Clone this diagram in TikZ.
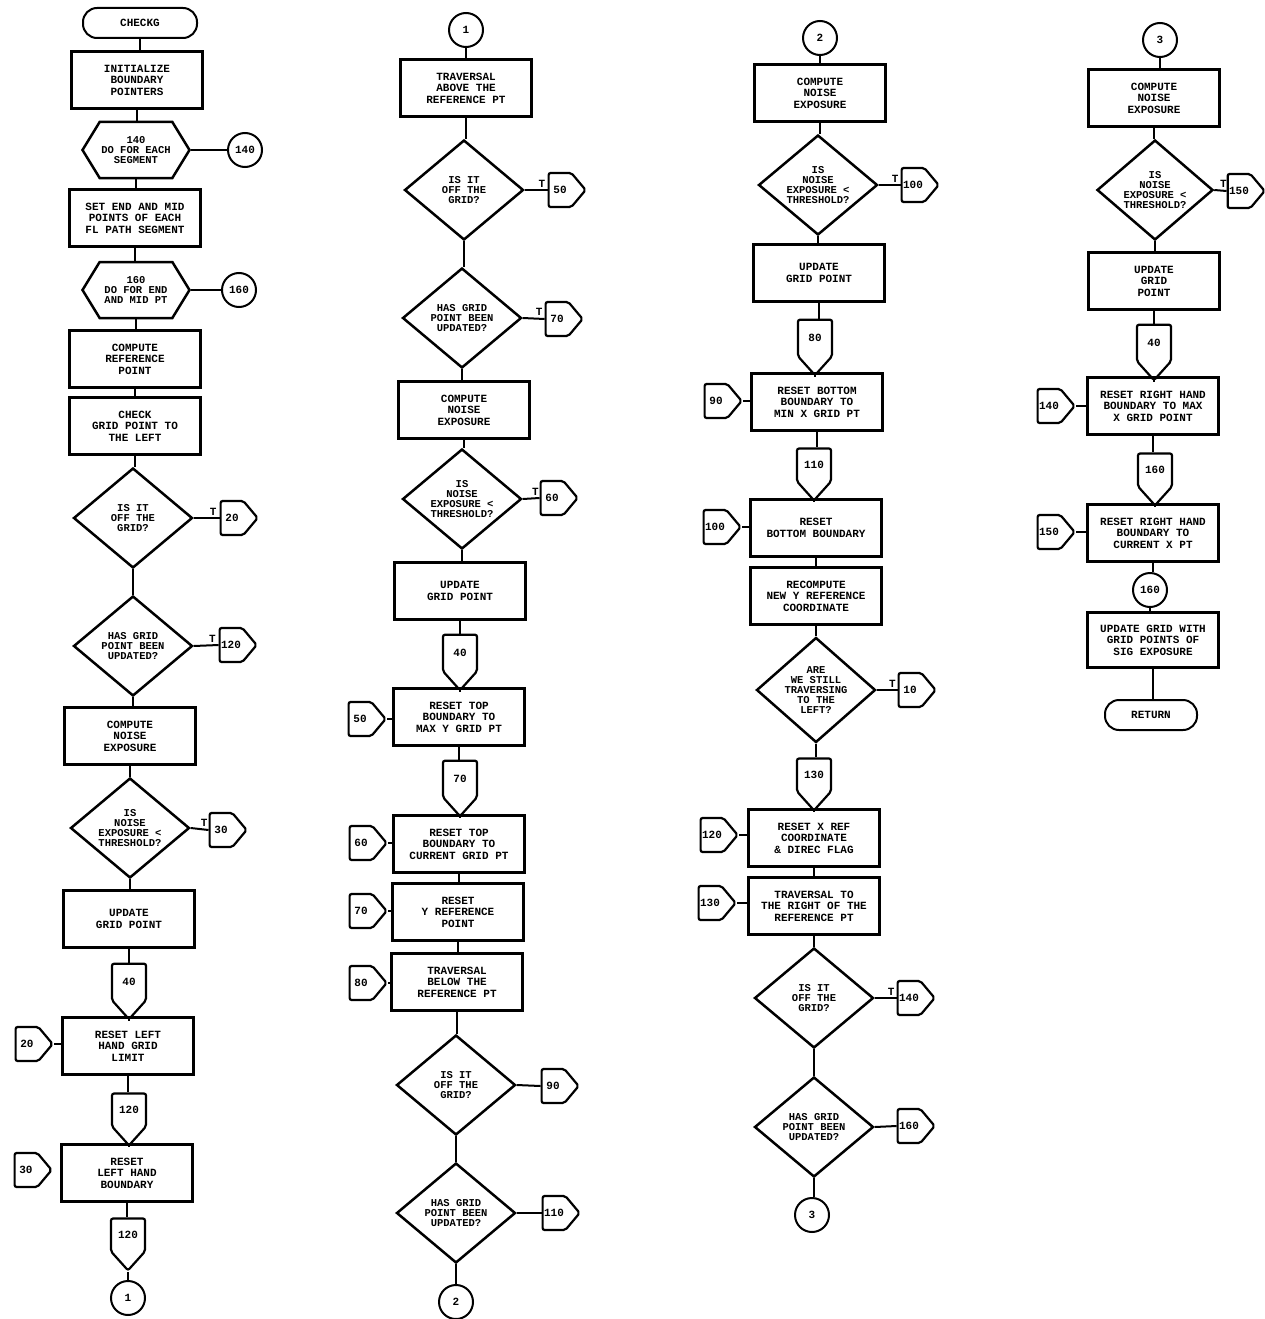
\documentclass[tikz,border=0pt]{standalone}
\usepackage{fontspec}
\usetikzlibrary{shapes.geometric,shapes.symbols}
\newfontfamily\chartfont{Liberation Mono}
\newcommand\chf{\chartfont\bfseries\fontsize{11}{11.5}\selectfont}
\newcommand\chd{\chartfont\bfseries\fontsize{10.5}{9.8}\selectfont}
\begin{document}
\begin{tikzpicture}[x=1pt,y=-1pt,
  box/.style={draw,line width=2.5pt,minimum width=131pt,minimum height=57pt,inner sep=1pt,align=center,font=\chf},
  dec/.style={draw,diamond,aspect=1.2,line width=2.5pt,minimum width=119pt,minimum height=100pt,inner sep=-3pt,align=center,font=\chd},
  prep/.style={draw,signal,signal to=west and east,signal pointer angle=117,minimum width=107pt,minimum height=56pt,line width=2.5pt,inner sep=1pt,align=center,font=\chd},
  offr/.style={draw,signal,signal to=east,signal pointer angle=100,minimum width=37pt,minimum height=34pt,line width=2.2pt,inner sep=1pt,rounded corners=2pt,font=\chf},
  offd/.style={draw,signal,signal to=south,signal pointer angle=84,minimum width=34pt,minimum height=45pt,line width=2.2pt,inner sep=1pt,rounded corners=2pt,font=\chf},
  conn/.style={draw,circle,line width=2pt,minimum size=34pt,inner sep=0pt,font=\chf},
  term/.style={draw,rectangle,rounded corners=14pt,line width=2pt,minimum width=114pt,minimum height=30pt,inner sep=1pt,font=\chf},
  flow/.style={line width=1.2pt},
  side/.style={line width=2pt},
  tl/.style={font=\chf,above,pos=0.75,inner sep=2pt}]
\useasboundingbox (0,0) rectangle (1265,1319);
% ---------------- column 1 ----------------
\node[term] (t1) at (140,23) {CHECKG};
\node[box] (b1) at (137,80) {INITIALIZE\\BOUNDARY\\POINTERS};
\node[prep] (p1) at (136,150) {140\\DO FOR EACH\\SEGMENT};
\node[conn] (c140) at (245,150) {140};
\node[box] (b2) at (135,218) {SET END AND MID\\POINTS OF EACH\\FL PATH SEGMENT};
\node[prep] (p2) at (136,290) {160\\DO FOR END\\AND MID PT};
\node[conn] (c160) at (239,290) {160};
\node[box] (b3) at (135,359) {COMPUTE\\REFERENCE\\POINT};
\node[box] (b4) at (135,426) {CHECK\\GRID POINT TO\\THE LEFT};
\node[dec] (d1) at (133,518) {IS IT\\OFF THE\\GRID?};
\node[offr] (o20) at (232,518) {20};
\node[dec] (d2) at (133,646) {HAS GRID\\POINT BEEN\\UPDATED?};
\node[offr] (o120) at (231,645) {120};
\node[box] (b5) at (130,736) {COMPUTE\\NOISE\\EXPOSURE};
\node[dec] (d3) at (130,828) {IS\\NOISE\\EXPOSURE <\\THRESHOLD?};
\node[offr] (o30) at (221,830) {30};
\node[box] (b6) at (129,919) {UPDATE\\GRID POINT};
\node[offd] (f40) at (129,982) {40};
\node[box] (b7) at (128,1046) {RESET LEFT\\HAND GRID\\LIMIT};
\node[offr] (o20b) at (27,1044) {20};
\node[offd] (f120) at (129,1110) {120};
\node[box] (b8) at (127,1173) {RESET\\LEFT HAND\\BOUNDARY};
\node[offr] (o30b) at (26,1170) {30};
\node[offd] (f120b) at (128,1235) {120};
\node[conn] (c1) at (128,1298) {1};
\foreach \a/\b in {t1/b1,b1/p1,p1/b2,b2/p2,p2/b3,b3/b4,b4/d1,d1/d2,d2/b5,b5/d3,d3/b6,b6/f40,f40/b7,b7/f120,f120/b8,b8/f120b,f120b/c1}
  \draw[flow] (\a.south) -- (\a.south |- \b.north);
\draw[side] (p1.east) -- (c140.west);
\draw[side] (p2.east) -- (c160.west);
\draw[side] (d1.east) -- node[tl]{T} (o20.west);
\draw[side] (d2.east) -- node[tl]{T} (o120.west);
\draw[side] (d3.east) -- node[tl]{T} (o30.west);
\draw[side] (o20b.east) -- (b7.west |- o20b.east);
% ---------------- column 2 ----------------
\node[conn] (c1b) at (466,30) {1};
\node[box] (b9) at (466,88) {TRAVERSAL\\ABOVE THE\\REFERENCE PT};
\node[dec] (d4) at (464,190) {IS IT\\OFF THE\\GRID?};
\node[offr] (o50) at (560,190) {50};
\node[dec] (d5) at (462,318) {HAS GRID\\POINT BEEN\\UPDATED?};
\node[offr] (o70) at (557,319) {70};
\node[box] (b10) at (464,410) {COMPUTE\\NOISE\\EXPOSURE};
\node[dec] (d6) at (462,499) {IS\\NOISE\\EXPOSURE <\\THRESHOLD?};
\node[offr] (o60) at (552,498) {60};
\node[box] (b11) at (460,591) {UPDATE\\GRID POINT};
\node[offd] (f40b) at (460,653) {40};
\node[box] (b12) at (459,717) {RESET TOP\\BOUNDARY TO\\MAX Y GRID PT};
\node[offr] (o50b) at (360,719) {50};
\node[offd] (f70) at (460,779) {70};
\node[box] (b13) at (459,844) {RESET TOP\\BOUNDARY TO\\CURRENT GRID PT};
\node[offr] (o60b) at (361,843) {60};
\node[box] (b14) at (458,912) {RESET\\Y REFERENCE\\POINT};
\node[offr] (o70b) at (361,911) {70};
\node[box] (b15) at (457,982) {TRAVERSAL\\BELOW THE\\REFERENCE PT};
\node[offr] (o80) at (361,983) {80};
\node[dec] (d7) at (456,1085) {IS IT\\OFF THE\\GRID?};
\node[offr] (o90) at (553,1086) {90};
\node[dec] (d8) at (456,1213) {HAS GRID\\POINT BEEN\\UPDATED?};
\node[offr] (o110) at (554,1213) {110};
\node[conn] (c2) at (456,1302) {2};
\foreach \a/\b in {c1b/b9,b9/d4,d4/d5,d5/b10,b10/d6,d6/b11,b11/f40b,f40b/b12,b12/f70,f70/b13,b13/b14,b14/b15,b15/d7,d7/d8,d8/c2}
  \draw[flow] (\a.south) -- (\a.south |- \b.north);
\draw[side] (d4.east) -- node[tl]{T} (o50.west);
\draw[side] (d5.east) -- node[tl]{T} (o70.west);
\draw[side] (d6.east) -- node[tl]{T} (o60.west);
\draw[side] (d7.east) -- (o90.west);
\draw[side] (d8.east) -- (o110.west);
\foreach \o/\b in {o50b/b12,o60b/b13,o70b/b14,o80/b15}
  \draw[side] (\o.east) -- (\b.west |- \o.east);
% ---------------- column 3 ----------------
\node[conn] (c2b) at (820,38) {2};
\node[box] (b16) at (820,93) {COMPUTE\\NOISE\\EXPOSURE};
\node[dec] (d9) at (818,185) {IS\\NOISE\\EXPOSURE <\\THRESHOLD?};
\node[offr] (o100) at (913,185) {100};
\node[box] (b17) at (819,273) {UPDATE\\GRID POINT};
\node[offd] (f80) at (815,338) {80};
\node[box] (b18) at (817,402) {RESET BOTTOM\\BOUNDARY TO\\MIN X GRID PT};
\node[offr] (o90b) at (716,401) {90};
\node[offd] (f110) at (814,465) {110};
\node[box] (b19) at (816,528) {RESET\\BOTTOM BOUNDARY};
\node[offr] (o100b) at (715,527) {100};
\node[box] (b20) at (816,596) {RECOMPUTE\\NEW Y REFERENCE\\COORDINATE};
\node[dec,minimum height=105pt] (d10) at (816,690) {ARE\\WE STILL\\TRAVERSING\\TO THE\\LEFT?};
\node[offr] (o10) at (910,690) {10};
\node[offd] (f130) at (814,775) {130};
\node[box] (b21) at (814,838) {RESET X REF\\COORDINATE\\\& DIREC FLAG};
\node[offr] (o120b) at (712,835) {120};
\node[box] (b22) at (814,906) {TRAVERSAL TO\\THE RIGHT OF THE\\REFERENCE PT};
\node[offr] (o130b) at (710,903) {130};
\node[dec] (d11) at (814,998) {IS IT\\OFF THE\\GRID?};
\node[offr] (o140) at (909,998) {140};
\node[dec] (d12) at (814,1127) {HAS GRID\\POINT BEEN\\UPDATED?};
\node[offr] (o160b) at (909,1126) {160};
\node[conn] (c3) at (812,1215) {3};
\foreach \a/\b in {c2b/b16,b16/d9,d9/b17,b17/f80,f80/b18,b18/f110,f110/b19,b19/b20,b20/d10,d10/f130,f130/b21,b21/b22,b22/d11,d11/d12,d12/c3}
  \draw[flow] (\a.south) -- (\a.south |- \b.north);
\draw[side] (d9.east) -- node[tl]{T} (o100.west);
\draw[side] (d10.east) -- node[tl]{T} (o10.west);
\draw[side] (d11.east) -- node[tl]{T} (o140.west);
\draw[side] (d12.east) -- (o160b.west);
\foreach \o/\b in {o90b/b18,o100b/b19,o120b/b21,o130b/b22}
  \draw[side] (\o.east) -- (\b.west |- \o.east);
% ---------------- column 4 ----------------
\node[conn] (c3b) at (1160,40) {3};
\node[box] (b23) at (1154,98) {COMPUTE\\NOISE\\EXPOSURE};
\node[dec,minimum width=116pt] (d13) at (1155,190) {IS\\NOISE\\EXPOSURE <\\THRESHOLD?};
\node[offr] (o150) at (1239,191) {150};
\node[box] (b24) at (1154,281) {UPDATE\\GRID\\POINT};
\node[offd] (f40c) at (1154,343) {40};
\node[box] (b25) at (1153,406) {RESET RIGHT HAND\\BOUNDARY TO MAX\\X GRID POINT};
\node[offr] (o140b) at (1049,406) {140};
\node[offd] (f160) at (1155,470) {160};
\node[box] (b26) at (1153,533) {RESET RIGHT HAND\\BOUNDARY TO\\CURRENT X PT};
\node[offr] (o150b) at (1049,532) {150};
\node[conn] (c160b) at (1150,590) {160};
\node[box,minimum height=55pt] (b27) at (1153,640) {UPDATE GRID WITH\\GRID POINTS OF\\SIG EXPOSURE};
\node[term,minimum width=92pt] (t2) at (1151,715) {RETURN};
\foreach \a/\b in {c3b/b23,b23/d13,d13/b24,b24/f40c,f40c/b25,b25/f160,f160/b26,b26/c160b,c160b/b27,b27/t2}
  \draw[flow] (\a.south) -- (\a.south |- \b.north);
\draw[side] (d13.east) -- node[tl]{T} (o150.west);
\foreach \o/\b in {o140b/b25,o150b/b26}
  \draw[side] (\o.east) -- (\b.west |- \o.east);
\end{tikzpicture}
\end{document}
